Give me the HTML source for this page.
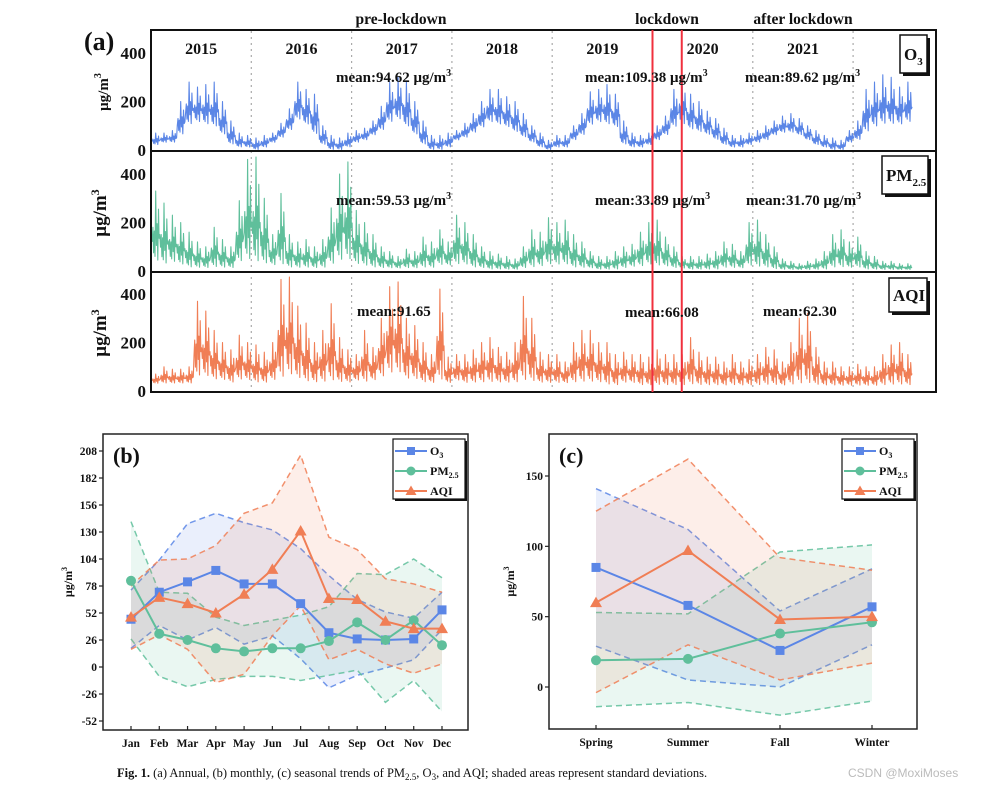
<!DOCTYPE html>
<html><head><meta charset="utf-8">
<style>
body{margin:0;background:#fff;}
svg{display:block;font-family:"Liberation Serif",serif;}
text{font-weight:bold;fill:#111;}
</style></head>
<body>
<svg id="fig" width="998" height="791" viewBox="0 0 998 791" xmlns="http://www.w3.org/2000/svg">
<g id="pa"></g>
<g id="pb"></g>
<g id="pc"></g>
<text x="117" y="777" font-size="12.5" style="font-weight:normal"><tspan font-weight="bold">Fig. 1.</tspan> (a) Annual, (b) monthly, (c) seasonal trends of PM<tspan font-size="9" dy="3">2.5</tspan><tspan dy="-3">, O</tspan><tspan font-size="9" dy="3">3</tspan><tspan dy="-3">, and AQI; shaded areas represent standard deviations.</tspan></text>
<text x="848" y="777" font-size="12" style="font-weight:normal;fill:#bbb;font-family:'Liberation Sans',sans-serif">CSDN @MoxiMoses</text>
</svg>
<script>
const NS="http://www.w3.org/2000/svg";
// ===== Panel (a) data: monthly high / low envelopes, Jan 2015 - Jul 2022 =====
const years=["2015","2016","2017","2018","2019","2020","2021"];
const tickLabelsA=["400","200","0"];
const o3Hi=[70,70,80,200,280,260,270,280,200,120,70,60, 50,60,70,110,170,280,250,230,100,60,50,70, 80,90,120,180,280,300,280,200,120,60,60,70, 80,110,150,200,250,250,220,200,150,100,70,40, 60,60,100,150,240,250,270,230,120,70,60,70, 100,140,250,280,230,200,160,130,90,60,60,70, 80,100,120,140,150,130,100,80,60,50,40,80, 120,250,280,310,300,260,280];
const o3Lo=[20,30,30,60,100,110,100,90,60,20,10,10, 0,10,30,50,80,120,100,60,20,0,0,10, 30,40,60,80,110,120,90,60,20,0,0,10, 40,50,70,90,110,100,90,70,50,30,10,0, 10,10,40,60,100,110,100,90,20,10,10,20, 40,60,90,100,80,70,60,40,20,10,10,20, 30,40,60,70,70,60,40,20,10,0,0,30, 40,70,90,100,100,100,110];
const pmHi=[330,280,230,200,160,120,100,180,130,100,290,460, 470,300,150,320,150,120,130,100,130,260,400,450, 250,200,150,100,80,60,90,80,140,120,170,120, 230,200,150,100,80,70,60,50,100,170,160,220, 200,210,150,120,80,60,60,80,100,110,160,200, 210,140,100,60,60,60,70,80,120,110,80,200, 210,150,100,50,40,30,40,50,80,150,170,120, 140,80,60,40,40,30,30];
const pmLo=[30,20,30,20,10,10,10,10,10,10,30,30, 20,20,20,15,10,10,10,10,10,20,30,30, 20,15,10,10,10,10,10,10,10,10,20,20, 20,20,10,10,5,5,5,5,10,10,15,20, 20,20,10,10,10,5,5,5,10,15,15,20, 15,15,10,10,5,5,5,5,10,10,10,15, 10,10,5,5,5,5,5,5,5,10,10,10, 10,5,5,5,5,5,5];
const aqiHi=[70,100,90,90,100,370,330,250,200,170,230,200, 190,160,200,460,470,350,280,200,250,360,220,170, 150,250,180,300,430,450,300,270,200,150,420,140, 150,150,170,200,220,180,160,200,390,300,160,150, 150,120,200,250,250,200,200,150,160,150,150,140, 170,150,150,150,220,160,140,140,120,150,120,130, 150,180,170,120,200,300,320,180,120,120,100,100, 110,100,100,150,190,200,150];
const aqiLo=[30,30,30,30,30,50,50,40,40,30,40,40, 30,30,40,40,50,40,30,30,30,30,30,30, 40,30,40,50,60,60,40,40,30,30,30,30, 40,30,30,30,30,30,30,30,30,30,30,30, 30,30,30,30,30,30,20,20,30,30,20,20, 20,20,20,20,20,20,20,20,20,20,20,20, 20,20,20,20,20,20,20,20,20,20,20,20, 20,20,20,20,20,20,20];
// ===== Panel (b) data =====
const months=["Jan","Feb","Mar","Apr","May","Jun","Jul","Aug","Sep","Oct","Nov","Dec"];
const ticksB=[-52,-26,0,26,52,78,104,130,156,182,208];
const o3M=[46,72,82,93,80,80,61,33,27,26,27,55];
const o3Up=[74,103,138,148,139,132,114,88,65,53,47,72];
const o3Dn=[18,40,26,38,22,30,8,-20,-8,-1,7,36];
const pmM=[83,32,26,18,15,18,18,25,43,26,45,21];
const pmUp=[140,72,71,48,40,45,50,58,90,89,104,86];
const pmDn=[27,-9,-19,-12,-9,-9,-13,-8,-3,-34,-13,-43];
const aqM=[48,67,61,52,70,94,131,66,65,44,37,37];
const aqUp=[78,103,104,117,148,158,204,125,113,85,80,72];
const aqDn=[17,31,17,-15,-7,30,59,7,17,3,-6,3];
// ===== Panel (c) data =====
const seasons=["Spring","Summer","Fall","Winter"];
const ticksC=[0,50,100,150];
const so3M=[85,58,26,57], so3Up=[141,112,54,84], so3Dn=[29,5,0,30];
const spmM=[19,20,38,46], spmUp=[53,52,96,101], spmDn=[-14,-11,-20,-10];
const saqM=[60,97,48,50], saqUp=[125,162,92,83], saqDn=[-4,30,5,17];

const C={o3:"#5b86e6",pm:"#5fbf9b",aq:"#f07e55"};
function el(p,tag,attrs,txt){const e=document.createElementNS(NS,tag);for(const k in attrs)e.setAttribute(k,attrs[k]);if(txt!==undefined)e.textContent=txt;p.appendChild(e);return e;}

// ---------- Panel A ----------
const A=document.getElementById('pa');
const xA=t=>151+t/12*100.3;
const base=[150,271,391];
const yA=(k,v)=>base[k]-Math.min(v,480)*0.2425;
const pattern=[0.3,0.5,0.15,0.45,0.1,1,0.25,0.55,0.05,0.75,0.35,0.4];
function series(k,hi,lo,col,name){
  let d="";
  for(let m=0;m<hi.length;m++){
    for(let j=0;j<12;j++){
      const t=m+(j+0.5)/12;
      const v=lo[m]+pattern[j]*(hi[m]-lo[m]);
      d+=(d?"L":"M")+xA(t+0.1).toFixed(1)+","+yA(k,v).toFixed(1);
    }
  }
  const p=el(A,"path",{d:d,fill:"none",stroke:col,"stroke-width":1.1,"stroke-linejoin":"round"});
  
  
}
for(let i=1;i<8;i++){
  const l=el(A,"line",{x1:xA(i*12),x2:xA(i*12),y1:31,y2:392,stroke:"#aaa","stroke-width":1.2,"stroke-dasharray":"2,4"});
  
  
}
series(0,o3Hi,o3Lo,C.o3,"o3-daily-line");
series(1,pmHi,pmLo,C.pm,"pm25-daily-line");
series(2,aqiHi,aqiLo,C.aq,"aqi-daily-line");
el(A,"rect",{x:151,y:30,width:785,height:362,fill:"none",stroke:"#111","stroke-width":2});
el(A,"line",{x1:151,x2:936,y1:151,y2:151,stroke:"#111","stroke-width":2});
el(A,"line",{x1:151,x2:936,y1:272,y2:272,stroke:"#111","stroke-width":2});
for(const mt of [60,63.5]){
  const l=el(A,"line",{x1:xA(mt),x2:xA(mt),y1:30,y2:392,stroke:"#f0303e","stroke-width":2});
  
  
}
for(let k=0;k<3;k++){
  [400,200,0].forEach((v,i)=>{
    const t=el(A,"text",{x:146,y:yA(k,v)+6,"font-size":17,"text-anchor":"end"},tickLabelsA[i]);
    
    
  });
  const ya=el(A,"text",{x:0,y:0,"font-size":k==0?15:19,"text-anchor":"middle",transform:`translate(${k==0?108:106},${base[k]-58}) rotate(-90)`},"μg/m");
  el(ya,"tspan",{dy:-7,"font-size":k==0?10:12},"3");
  
  
}
el(A,"text",{x:84,y:50,"font-size":26,},"(a)");
years.forEach((y,i)=>{
  const t=el(A,"text",{x:xA(i*12+6),y:54,"font-size":16,"text-anchor":"middle"},y);
  
  
});
[["pre-lockdown",401],["lockdown",667],["after lockdown",803]].forEach(a=>{
  const t=el(A,"text",{x:a[1],y:24,"font-size":15.5,"text-anchor":"middle"},a[0]);
  
  
});
function meanLbl(x,y,s,unit){
  const t=el(A,"text",{x:x,y:y,"font-size":15},s);
  if(unit){el(t,"tspan",{},"μg/m");el(t,"tspan",{dy:-6,"font-size":10},"3");}
  
  
}
meanLbl(336,82,"mean:94.62 ",1);meanLbl(585,82,"mean:109.38 ",1);meanLbl(745,82,"mean:89.62 ",1);
meanLbl(336,205,"mean:59.53 ",1);meanLbl(595,205,"mean:33.89 ",1);meanLbl(746,205,"mean:31.70 ",1);
meanLbl(357,316,"mean:91.65");meanLbl(625,317,"mean:66.08");meanLbl(763,316,"mean:62.30");
function boxLbl(x,y,w,h,name,main,sub){
  const g=el(A,"g",{});
  
  
  el(g,"rect",{x:x+3,y:y+3,width:w,height:h,fill:"#111"});
  el(g,"rect",{x:x,y:y,width:w,height:h,fill:"#fff",stroke:"#111","stroke-width":1.5});
  const t=el(g,"text",{x:x+4,y:y+h/2+6,"font-size":17},main);
  if(sub)el(t,"tspan",{dy:5,"font-size":11},sub);
}
boxLbl(900,35,27,38,"o3-box-label","O","3");
boxLbl(882,156,46,38,"pm25-box-label","PM","2.5");
boxLbl(889,278,38,34,"aqi-box-label","AQI");

function linePanel(G,cfg){
  const {L,T,R,B,xs,yv,cats,ticks,ser,lbl,legX}=cfg;
  el(G,"rect",{x:L,y:T,width:R-L,height:B-T,fill:"#fff"});
  ser.forEach(s=>{
    const n=s.up.length;
    let pts=[];for(let i=0;i<n;i++)pts.push(xs(i)+","+yv(s.up[i]));
    for(let i=n-1;i>=0;i--)pts.push(xs(i)+","+yv(s.dn[i]));
    const band=el(G,"polygon",{points:pts.join(" "),fill:s.c,"fill-opacity":0.13});
    
    
    [s.up,s.dn].forEach(arr=>{
      const pl=el(G,"polyline",{points:arr.map((v,i)=>xs(i)+","+yv(v)).join(" "),fill:"none",stroke:s.c,"stroke-width":1.5,"stroke-dasharray":"6,4","stroke-opacity":0.85});
      
      
    });
  });
  ser.forEach(s=>{
    const pl=el(G,"polyline",{points:s.m.map((v,i)=>xs(i)+","+yv(v)).join(" "),fill:"none",stroke:s.c,"stroke-width":2});
    
    
    s.m.forEach((v,i)=>{
      const x=xs(i),y=yv(v);let mk;
      if(s.k=="sq")mk=el(G,"rect",{x:x-4.5,y:y-4.5,width:9,height:9,fill:s.c});
      else if(s.k=="ci")mk=el(G,"circle",{cx:x,cy:y,r:5,fill:s.c});
      else mk=el(G,"polygon",{points:`${x},${y-6} ${x-6},${y+4.5} ${x+6},${y+4.5}`,fill:s.c});
      
      
    });
  });
  el(G,"rect",{x:L,y:T,width:R-L,height:B-T,fill:"none",stroke:"#222","stroke-width":1.5});
  ticks.forEach(v=>{
    el(G,"line",{x1:L,x2:L-4,y1:yv(v),y2:yv(v),stroke:"#222","stroke-width":1.2});
    const t=el(G,"text",{x:L-6,y:yv(v)+4,"font-size":11.5,"text-anchor":"end"},String(v));
    
    
  });
  cats.forEach((c,i)=>{
    el(G,"line",{x1:xs(i),x2:xs(i),y1:B,y2:B-4,stroke:"#222","stroke-width":1.2});
    const t=el(G,"text",{x:xs(i),y:B+17,"font-size":11.5,"text-anchor":"middle"},c);
    
    
  });
  el(G,"text",{x:L+10,y:T+29,"font-size":22},lbl);
  const ya=el(G,"text",{x:0,y:0,"font-size":12,"text-anchor":"middle",transform:`translate(${cfg.yTitleX},${(T+B)/2}) rotate(-90)`},"μg/m");
  el(ya,"tspan",{dy:-5,"font-size":8},"3");
  
  
  const lg=el(G,"g",{});
  
  
  el(lg,"rect",{x:legX+2,y:441,width:72,height:60,fill:"#111"});
  el(lg,"rect",{x:legX,y:439,width:72,height:60,fill:"#fff",stroke:"#111","stroke-width":1.2});
  ser.forEach((s,i)=>{
    const y=451+i*20;
    const e=el(lg,"g",{});
    
    
    el(e,"line",{x1:legX+2,x2:legX+34,y1:y,y2:y,stroke:s.c,"stroke-width":2});
    const x=legX+18;
    if(s.k=="sq")el(e,"rect",{x:x-4,y:y-4,width:8,height:8,fill:s.c});
    else if(s.k=="ci")el(e,"circle",{cx:x,cy:y,r:4.5,fill:s.c});
    else el(e,"polygon",{points:`${x},${y-5.5} ${x-5.5},${y+4} ${x+5.5},${y+4}`,fill:s.c});
    const t=el(e,"text",{x:legX+37,y:y+4,"font-size":12},s.lab);
    if(s.sub)el(t,"tspan",{dy:3,"font-size":8},s.sub);
  });
}
linePanel(document.getElementById('pb'),{
  L:103,T:434,R:468,B:730,
  xs:i=>131+i*(442-131)/11,
  yv:v=>667-v*(27/26),
  cats:months,ticks:ticksB,lbl:"(b)",legX:393,yTitleX:72,
  ser:[{n:"o3",c:C.o3,k:"sq",m:o3M,up:o3Up,dn:o3Dn,lab:"O",sub:"3"},
       {n:"pm25",c:C.pm,k:"ci",m:pmM,up:pmUp,dn:pmDn,lab:"PM",sub:"2.5"},
       {n:"aqi",c:C.aq,k:"tr",m:aqM,up:aqUp,dn:aqDn,lab:"AQI"}]
});
linePanel(document.getElementById('pc'),{
  L:549,T:434,R:917,B:729,
  xs:i=>596+i*92,
  yv:v=>687-v*(211/150),
  cats:seasons,ticks:ticksC,lbl:"(c)",legX:842,yTitleX:514,
  ser:[{n:"o3",c:C.o3,k:"sq",m:so3M,up:so3Up,dn:so3Dn,lab:"O",sub:"3"},
       {n:"pm25",c:C.pm,k:"ci",m:spmM,up:spmUp,dn:spmDn,lab:"PM",sub:"2.5"},
       {n:"aqi",c:C.aq,k:"tr",m:saqM,up:saqUp,dn:saqDn,lab:"AQI"}]
});
</script>
</body></html>
